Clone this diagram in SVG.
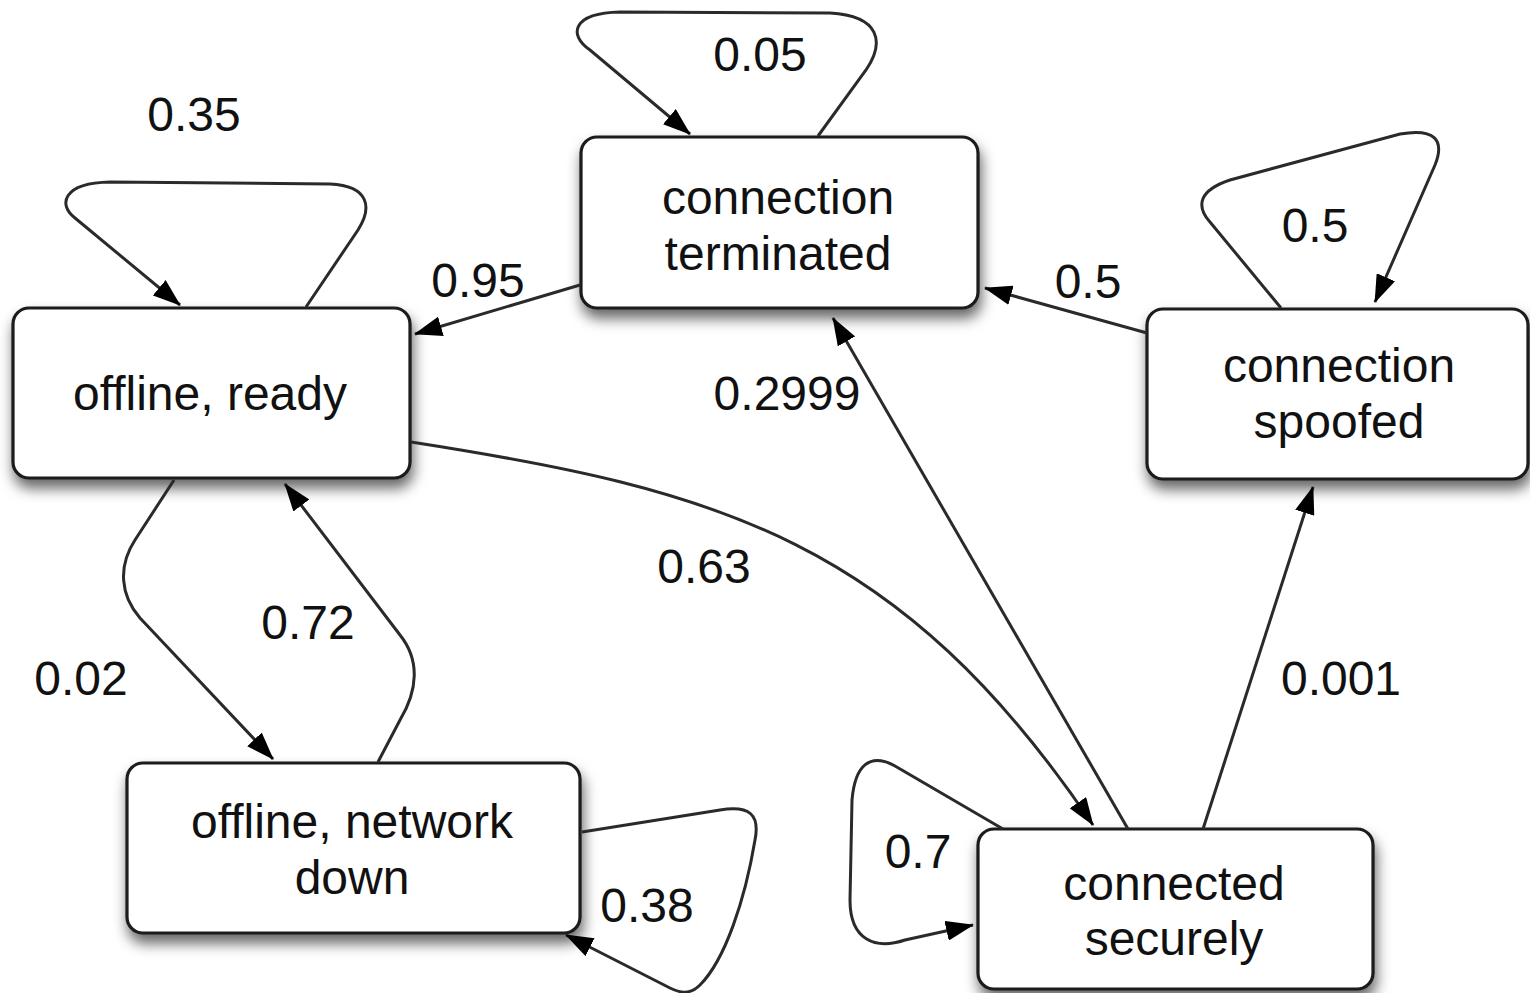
<svg xmlns="http://www.w3.org/2000/svg" width="1530" height="993" viewBox="0 0 1530 993">
  <style>
    .box { fill: #ffffff; stroke: #1a1a1a; stroke-width: 3.2; filter: url(#shadow); }
    .name { font-family: "Liberation Sans", Arial, sans-serif; font-size: 48px; fill: #111111; text-anchor: middle; }
    .prob { font-family: "Liberation Sans", Arial, sans-serif; font-size: 48px; fill: #111111; text-anchor: middle; }
    .edge { fill: none; stroke: #2a2a2a; stroke-width: 3; marker-end: url(#head); }
  </style>
  <defs>
    <filter id="shadow" x="-10%" y="-15%" width="125%" height="145%">
      <feDropShadow dx="2" dy="9" stdDeviation="7" flood-color="#000000" flood-opacity="0.6"/>
    </filter>
    <marker id="head" markerUnits="userSpaceOnUse" viewBox="0 0 28 20" refX="27" refY="10" markerWidth="28" markerHeight="20" orient="auto">
      <path d="M0,0 L28,10 L0,20 Z" fill="#000000"/>
    </marker>
  </defs>

  <rect width="1530" height="993" fill="#ffffff"/>

  <!-- state nodes -->
  <g id="offline-ready">
    <rect class="box" x="13" y="308" width="397" height="170" rx="16"/>
    <text class="name" x="210" y="410">offline, ready</text>
  </g>
  <g id="connection-terminated">
    <rect class="box" x="581" y="137" width="397" height="171" rx="16"/>
    <text class="name" x="778" y="214">connection</text>
    <text class="name" x="778" y="270">terminated</text>
  </g>
  <g id="connection-spoofed">
    <rect class="box" x="1147" y="309" width="381" height="170" rx="16"/>
    <text class="name" x="1339" y="382">connection</text>
    <text class="name" x="1339" y="438">spoofed</text>
  </g>
  <g id="offline-network-down">
    <rect class="box" x="127" y="763" width="453" height="170" rx="16"/>
    <text class="name" x="352" y="838">offline, network</text>
    <text class="name" x="352" y="894">down</text>
  </g>
  <g id="connected-securely">
    <rect class="box" x="978" y="829" width="395" height="160" rx="16"/>
    <text class="name" x="1174" y="900">connected</text>
    <text class="name" x="1174" y="955">securely</text>
  </g>

  <!-- transitions -->
  <g id="connectors">
    <!-- self loops -->
    <path class="edge" d="M306,307 L358,230 C372,208 370,186 330,184 L110,182 C62,183 58,205 75,218 L180,305"/>
    <path class="edge" d="M818,136 L866,70 C885,42 880,16 830,13 L620,12 C572,13 568,35 590,50 L690,134"/>
    <path class="edge" d="M1281,308 L1210,222 C1195,205 1200,190 1230,180 L1400,134 C1435,128 1445,140 1435,165 L1375,302"/>
    <path class="edge" d="M582,832 L720,810 C750,805 760,815 755,840 C745,900 725,960 700,985 C690,995 680,993 670,988 L566,935"/>
    <path class="edge" d="M1003,829 L895,766 C870,752 855,765 852,800 L850,900 C850,940 875,950 905,940 L973,925"/>
    <!-- between states -->
    <path class="edge" d="M174,480 L135,540 C118,566 120,595 140,618 L273,759"/>
    <path class="edge" d="M378,762 L400,720 C418,690 420,660 400,635 L285,484"/>
    <path class="edge" d="M580,285 L415,334"/>
    <path class="edge" d="M1147,333 L985,288"/>
    <path class="edge" d="M1128,829 L833,318"/>
    <path class="edge" d="M1203,829 L1313,487"/>
    <path class="edge" d="M411,442 C720,490 900,540 1093,825"/>
  </g>

  <!-- transition probabilities -->
  <g id="labels">
    <text class="prob" x="194" y="131">0.35</text>
    <text class="prob" x="760" y="71">0.05</text>
    <text class="prob" x="478" y="297">0.95</text>
    <text class="prob" x="1315" y="242">0.5</text>
    <text class="prob" x="1088" y="298">0.5</text>
    <text class="prob" x="787" y="410">0.2999</text>
    <text class="prob" x="704" y="583">0.63</text>
    <text class="prob" x="308" y="639">0.72</text>
    <text class="prob" x="81" y="695">0.02</text>
    <text class="prob" x="1341" y="695">0.001</text>
    <text class="prob" x="918" y="868">0.7</text>
    <text class="prob" x="647" y="922">0.38</text>
  </g>
</svg>
